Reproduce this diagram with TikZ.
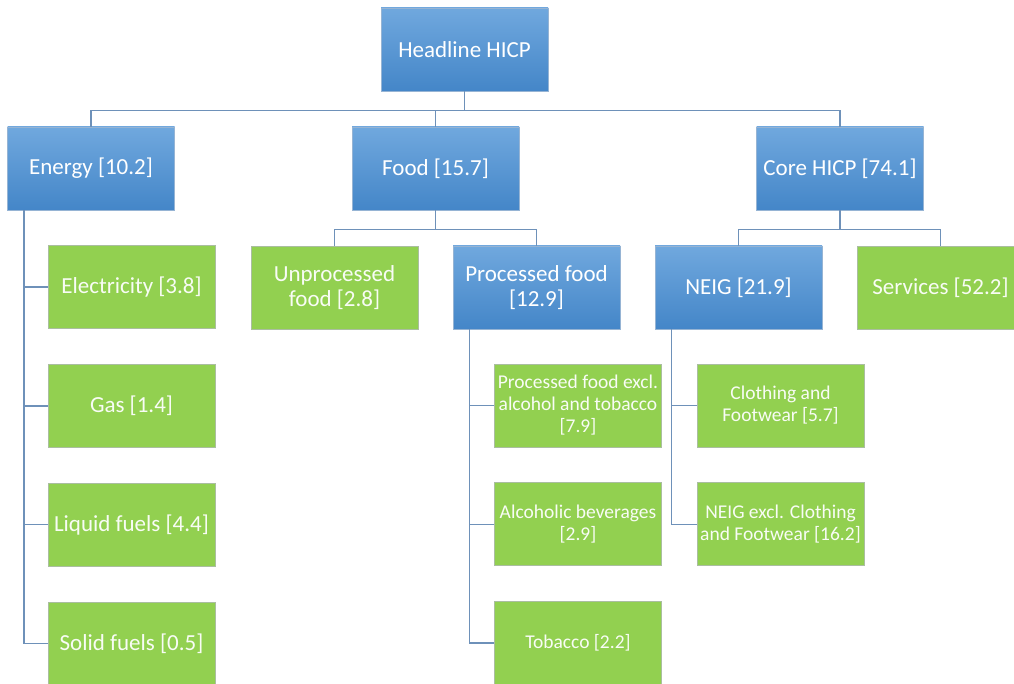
\documentclass[tikz,border=0pt]{standalone}
\usepackage{fontspec}
\setmainfont{Carlito}
\usetikzlibrary{positioning}

\definecolor{blueTop}{RGB}{112,168,222}
\definecolor{blueBot}{RGB}{68,134,200}
\definecolor{blueLine}{RGB}{150,180,212}
\definecolor{leafGreen}{RGB}{146,208,80}
\definecolor{leafLine}{RGB}{170,190,160}
\definecolor{linkBlue}{RGB}{110,145,185}

\begin{document}
\begin{tikzpicture}[
    x=1pt, y=-1pt,
    font=\fontsize{23}{25}\selectfont,
    box/.style={
        align=center,
        inner sep=2pt,
        minimum width=167pt,
        minimum height=83pt,
        text=white,
        line width=0.8pt
    },
    groupbox/.style={
        box,
        draw=blueLine,
        top color=blueTop,
        bottom color=blueBot
    },
    leafbox/.style={
        box,
        draw=leafLine,
        fill=leafGreen,
        text=white!94!leafGreen
    },
    smallleaf/.style={
        leafbox,
        font=\fontsize{19.5}{22}\selectfont
    },
    link/.style={
        draw=linkBlue,
        line width=1.4pt
    }
]
\useasboundingbox (0,0) rectangle (1014,684);

% Top of the hierarchy
\node[groupbox] (headline) at (464.5,49.5) {Headline HICP};

% Main components
\node[groupbox] (energy) at (91,168.5) {Energy [10.2]};
\node[groupbox] (food) at (435.5,168.5) {Food [15.7]};
\node[groupbox] (core) at (840,168.5) {Core HICP [74.1]};

% Energy items
\node[leafbox] (electricity) at (131.5,287) {Electricity [3.8]};
\node[leafbox, below=35pt of electricity] (gas) {Gas [1.4]};
\node[leafbox, below=35pt of gas] (liquid) {Liquid fuels [4.4]};
\node[leafbox, below=35pt of liquid] (solid) {Solid fuels [0.5]};

% Food items
\node[leafbox] (unprocessed) at (334.5,287.5) {Unprocessed\\food [2.8]};
\node[groupbox] (processed) at (536.5,287.5) {Processed food\\{}[12.9]};

\node[smallleaf] (procexcl) at (578,405.5)
    {Processed food excl.\\alcohol and tobacco\\{}[7.9]};
\node[smallleaf, below=35pt of procexcl] (alcohol) {Alcoholic beverages\\{}[2.9]};
\node[smallleaf, below=35pt of alcohol] (tobacco) {Tobacco [2.2]};

% Core items
\node[groupbox] (neig) at (738.5,287.5) {NEIG [21.9]};
\node[leafbox] (services) at (940.5,287.5) {Services [52.2]};

\node[smallleaf] (clothing) at (780.5,405.5) {Clothing and\\Footwear [5.7]};
\node[smallleaf, below=35pt of clothing] (neigexcl)
    {NEIG excl. Clothing\\and Footwear [16.2]};

% Tree connectors
\foreach \child in {energy,food,core}
    \draw[link] (headline.south) -- ++(0,19) -| (\child.north);

\foreach \child in {unprocessed,processed}
    \draw[link] (food.south) -- ++(0,19) -| (\child.north);

\foreach \child in {neig,services}
    \draw[link] (core.south) -- ++(0,19) -| (\child.north);

\foreach \child in {electricity,gas,liquid,solid}
    \draw[link] ([xshift=17pt]energy.south west) |- (\child.west);

\foreach \child in {procexcl,alcohol,tobacco}
    \draw[link] ([xshift=17pt]processed.south west) |- (\child.west);

\foreach \child in {clothing,neigexcl}
    \draw[link] ([xshift=17pt]neig.south west) |- (\child.west);

\end{tikzpicture}
\end{document}
